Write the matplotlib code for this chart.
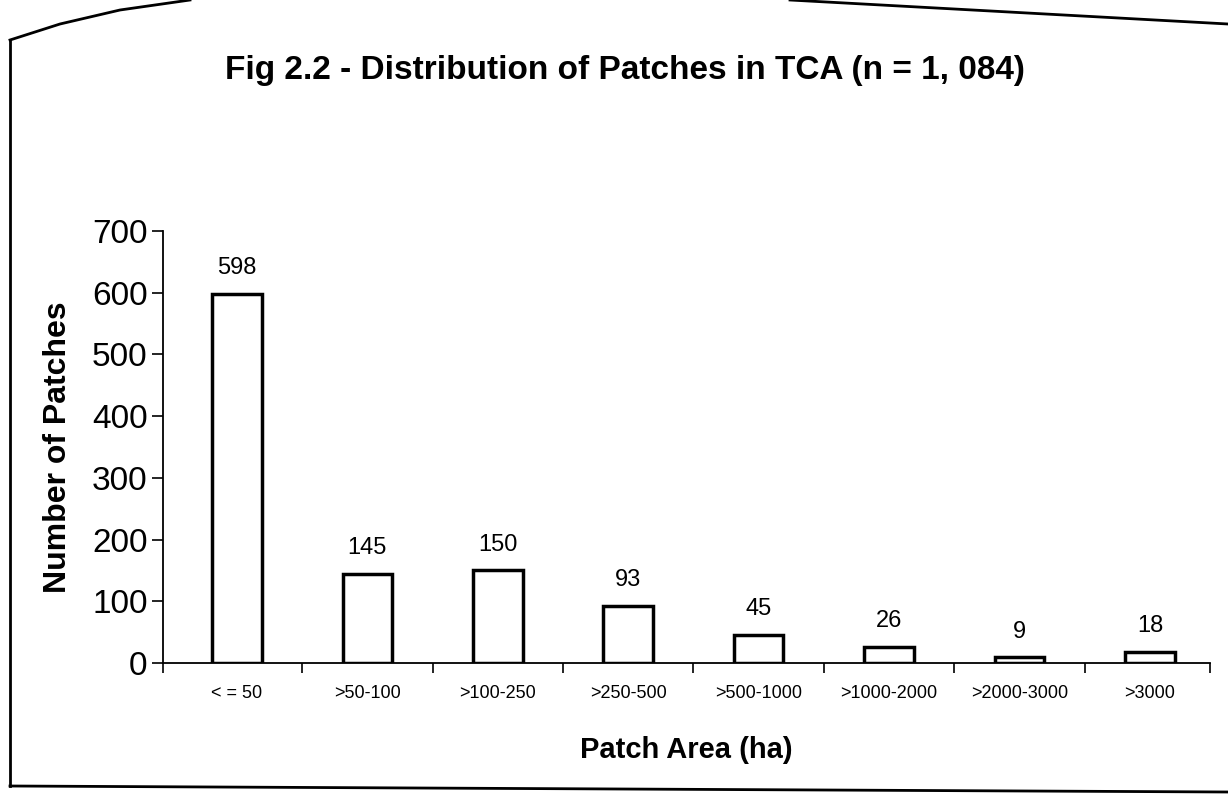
import matplotlib
matplotlib.use("Agg")
import matplotlib.pyplot as plt
from matplotlib.lines import Line2D

categories = ["< = 50", ">50-100", ">100-250", ">250-500", ">500-1000",
              ">1000-2000", ">2000-3000", ">3000"]
values = [598, 145, 150, 93, 45, 26, 9, 18]
yticks = [0, 100, 200, 300, 400, 500, 600, 700]

plt.rcParams['font.family'] = ['Liberation Sans', 'DejaVu Sans']

W, H = 1228, 798
fig = plt.figure(figsize=(W / 100, H / 100), dpi=100)
ax = fig.add_axes([163 / W, 1 - 663 / H, (1210 - 163) / W, (663 - 231) / H])

x = list(range(len(categories)))
ax.bar(x, values, width=0.38, color='white', edgecolor='black', linewidth=2.5)
for xi, v in zip(x, values):
    ax.text(xi, v + 24, str(v), ha='center', va='bottom', fontsize=17)

ax.set_xlim(-0.567, 7.46)
ax.set_ylim(0, 700)
ax.set_yticks(yticks)
ax.set_yticklabels([str(t) for t in yticks], fontsize=24)
ax.set_xticks(x)
ax.set_xticklabels(categories, fontsize=13)
ax.set_xticks([-0.567] + [i + 0.5 for i in range(len(categories) - 1)] + [7.46], minor=True)
ax.tick_params(axis='x', which='major', length=0, pad=16)
ax.tick_params(axis='x', which='minor', length=7, width=1.2, direction='out')
ax.tick_params(axis='y', which='major', length=8, width=1.2, direction='out', pad=3)
for s in ['top', 'right']:
    ax.spines[s].set_visible(False)
for s in ['left', 'bottom']:
    ax.spines[s].set_linewidth(1.3)

ax.set_ylabel("Number of Patches", fontsize=23, fontweight='bold', labelpad=14)
ax.set_xlabel("Patch Area (ha)", fontsize=21, fontweight='bold', labelpad=24)

fig.text(625 / W, 1 - 70 / H, "Fig 2.2 - Distribution of Patches in TCA (n = 1, 084)",
         ha='center', va='center', fontsize=24, fontweight='bold')

# scanned page frame
def fline(xs, ys):
    fig.add_artist(Line2D([a / W for a in xs], [1 - b / H for b in ys],
                          transform=fig.transFigure, color='black', linewidth=2.0))

fline([10, 10], [40, 786])
fline([10, 1228], [786, 792])
fline([10, 60, 120, 190], [40, 24, 10, 0])
fline([790, 1228], [0, 24])

fig.savefig("out.png", dpi=100, facecolor='white')
